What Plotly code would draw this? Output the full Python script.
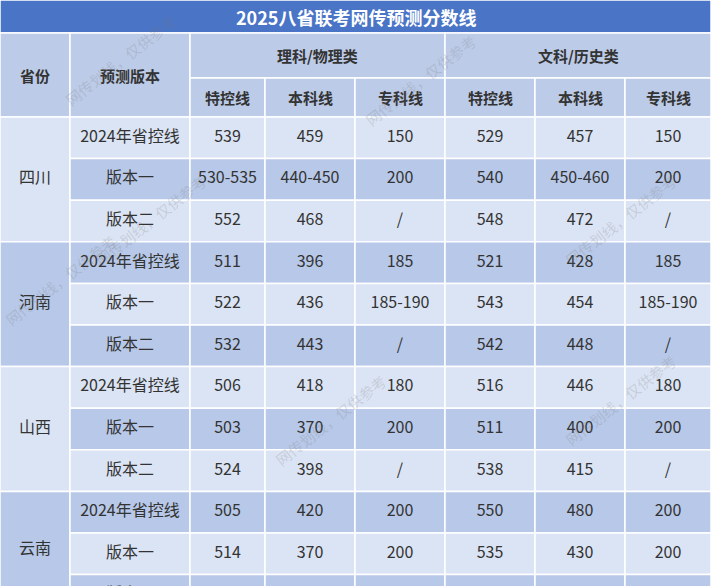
import plotly.graph_objects as go

title = "2025八省联考网传预测分数线"
provinces = ["四川", "河南", "山西", "云南"]
versions = ["2024年省控线", "版本一", "版本二"]
groups = ["理科/物理类", "文科/历史类"]
subheads = ["特控线", "本科线", "专科线"]
sci = [
    ["539", "459", "150"], ["530-535", "440-450", "200"], ["552", "468", "/"],
    ["511", "396", "185"], ["522", "436", "185-190"], ["532", "443", "/"],
    ["506", "418", "180"], ["503", "370", "200"], ["524", "398", "/"],
    ["505", "420", "200"], ["514", "370", "200"], ["", "", ""],
]
arts = [
    ["529", "457", "150"], ["540", "450-460", "200"], ["548", "472", "/"],
    ["521", "428", "185"], ["543", "454", "185-190"], ["542", "448", "/"],
    ["516", "446", "180"], ["511", "400", "200"], ["538", "415", "/"],
    ["550", "480", "200"], ["535", "430", "200"], ["", "", ""],
]

W, H = 711, 586
colx = [0, 70, 190, 265, 355, 445, 535, 625, 711]
y_title, y_h1, y_h2, y_data = 0, 33, 78, 117
rh = 41.6
DARK, LIGHT, HEAD, TITLE = "#b7c8e8", "#dbe4f4", "#bccbe8", "#4a74c6"
FONT = "Noto Sans CJK SC"

shapes, tx, ty, tt = [], [], [], []
ann = []

def rect(x0, y0, x1, y1, c):
    shapes.append(dict(type="rect", x0=x0, x1=x1, y0=y0, y1=y1, fillcolor=c,
                       line=dict(color="white", width=1.5), layer="below"))

rect(0, y_title, W, y_h1, TITLE)
ann.append(dict(x=W/2, y=(y_title+y_h1)/2, text=f"<b>{title}</b>", showarrow=False,
                font=dict(color="white", size=18, family=FONT)))
hdr = []
rect(colx[0], y_h1, colx[1], y_data, HEAD); hdr.append(((colx[0]+colx[1])/2, (y_h1+y_data)/2, "省份"))
rect(colx[1], y_h1, colx[2], y_data, HEAD); hdr.append(((colx[1]+colx[2])/2, (y_h1+y_data)/2, "预测版本"))
for g, name in enumerate(groups):
    x0, x1 = colx[2+3*g], colx[5+3*g]
    rect(x0, y_h1, x1, y_h2, HEAD); hdr.append(((x0+x1)/2, (y_h1+y_h2)/2, name))
    for k, s in enumerate(subheads):
        a, b = colx[2+3*g+k], colx[3+3*g+k]
        rect(a, y_h2, b, y_data, HEAD); hdr.append(((a+b)/2, (y_h2+y_data)/2, s))
for x, y, t in hdr:
    ann.append(dict(x=x, y=y, text=f"<b>{t}</b>", showarrow=False,
                    font=dict(color="#333333", size=15, family=FONT)))

for p, prov in enumerate(provinces):
    y0 = y_data + 3*p*rh
    rect(colx[0], y0, colx[1], y0+3*rh, LIGHT if p % 2 == 0 else DARK)
    tx.append((colx[0]+colx[1])/2); ty.append(min(y0+1.5*rh, 550)); tt.append(prov)
    for r in range(3):
        i = 3*p + r
        ry = y_data + i*rh
        c = LIGHT if i % 2 == 0 else DARK
        vals = [versions[r]] + sci[i] + arts[i]
        for j, v in enumerate(vals):
            rect(colx[1+j], ry, colx[2+j], ry+rh, c)
            if v:
                tx.append((colx[1+j]+colx[2+j])/2); ty.append(ry+rh/2); tt.append(v)

wm = "网传划线，仅供参考"
for x, y in [(120, 60), (150, 220), (420, 80), (620, 220), (330, 420), (620, 400), (60, 280)]:
    ann.append(dict(x=x, y=y, text=wm, showarrow=False, textangle=-38,
                    font=dict(color="rgba(120,120,120,0.22)", size=15, family=FONT)))

fig = go.Figure(go.Scatter(x=tx, y=ty, text=tt, mode="text", hoverinfo="skip",
                           textfont=dict(size=16, color="#333333", family=FONT)))
fig.update_layout(width=W, height=H, margin=dict(l=0, r=0, t=0, b=0),
                  shapes=shapes, annotations=ann, showlegend=False,
                  paper_bgcolor="white", plot_bgcolor="white",
                  xaxis=dict(range=[0, W], visible=False, fixedrange=True),
                  yaxis=dict(range=[H, 0], visible=False, fixedrange=True))
fig.write_html("out.html", config={"displayModeBar": False},
               post_script="document.body.style.margin='0';document.body.style.overflow='hidden';")
